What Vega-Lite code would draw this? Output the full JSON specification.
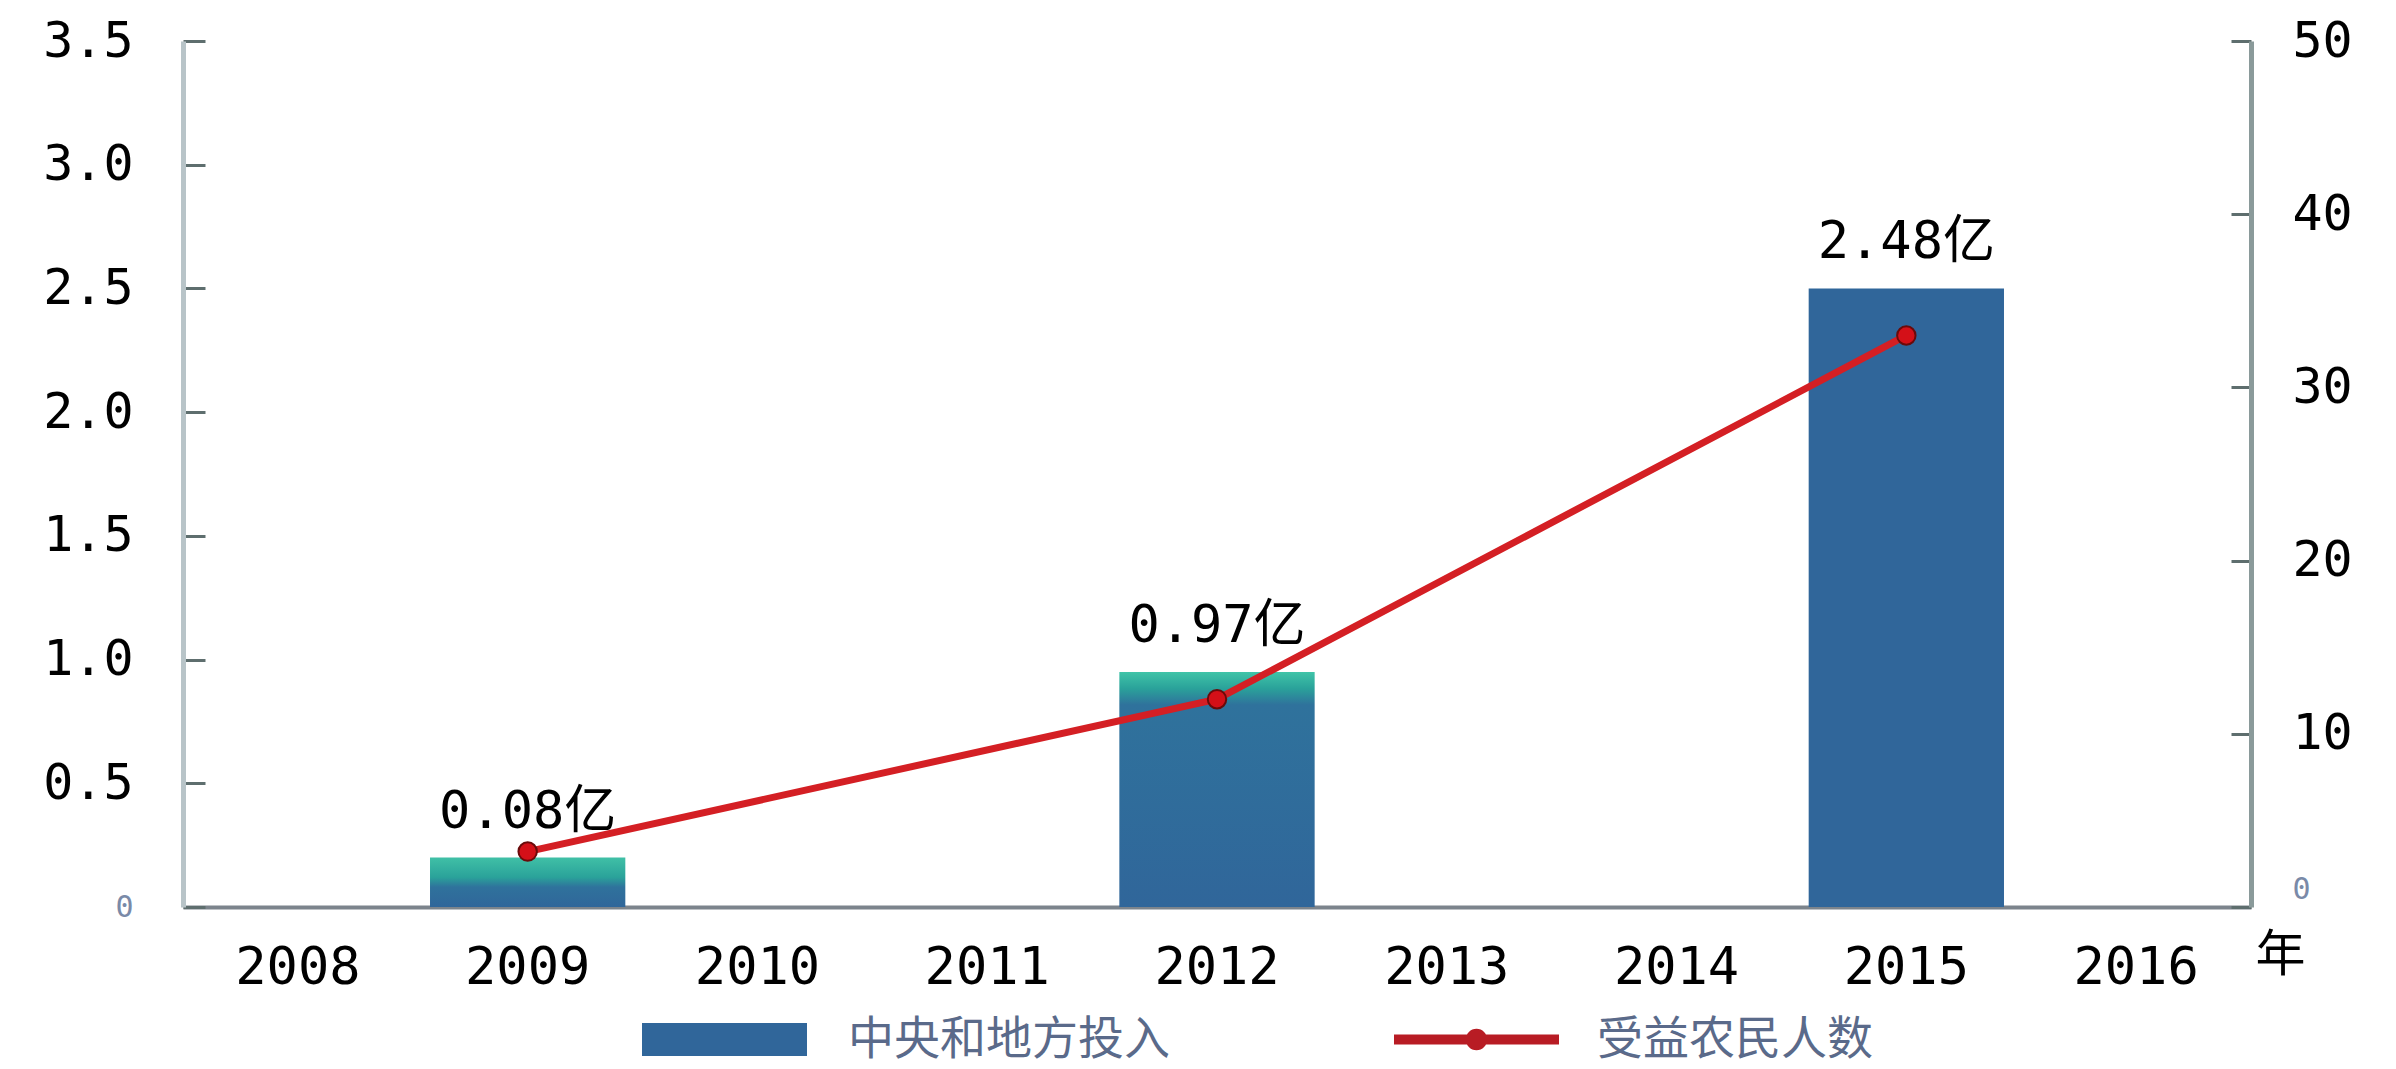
{
  "$schema": "https://vega.github.io/schema/vega-lite/v6.json",
  "width": 2068,
  "height": 866,
  "autosize": {"type": "none"},
  "padding": {"left": 183, "top": 41, "right": 145, "bottom": 162},
  "background": "white",
  "config": {"view": {"stroke": null}, "font": "DejaVu Sans Mono"},
  "datasets": {
    "bars": [
      {"year": "2009", "invest": 0.2, "label": "0.08亿"},
      {"year": "2012", "invest": 0.95, "label": "0.97亿"},
      {"year": "2015", "invest": 2.5, "label": "2.48亿"}
    ],
    "people": [
      {"year": "2009", "people": 3.2},
      {"year": "2012", "people": 12},
      {"year": "2015", "people": 33}
    ]
  },
  "encoding": {
    "x": {
      "field": "year", "type": "ordinal",
      "scale": {"domain": ["2008","2009","2010","2011","2012","2013","2014","2015","2016"], "paddingInner": 0.15, "paddingOuter": 0.075},
      "axis": {
        "domainColor": "#7c848c", "domainWidth": 4, "ticks": false, "tickSize": 0,
        "labelFont": "DejaVu Sans Mono", "labelFontSize": 52, "labelColor": "#000000",
        "labelPadding": 35, "labelAngle": 0,
        "title": "年", "titleX": 2097, "titleY": 48, "titleAlign": "center", "titleBaseline": "middle",
        "titleFont": "Noto Sans CJK SC", "titleFontSize": 50, "titleFontWeight": "normal", "titleColor": "#000000"
      }
    }
  },
  "layer": [
    {
      "data": {"name": "bars"},
      "encoding": {
        "y": {
          "field": "invest", "type": "quantitative",
          "scale": {"domain": [0, 3.5], "nice": false},
          "axis": {
            "orient": "left", "values": [0, 0.5, 1, 1.5, 2, 2.5, 3, 3.5],
            "labelExpr": "datum.value === 0 ? '0' : format(datum.value, '.1f')",
            "grid": false, "title": null,
            "domainColor": "#b8c4c8", "domainWidth": 5,
            "tickColor": "#5e6e6e", "tickWidth": 3, "tickSize": -22,
            "labelPadding": 72,
            "labelFont": "DejaVu Sans Mono",
            "labelFontSize": {"condition": {"test": "datum.value === 0", "value": 30}, "value": 50},
            "labelColor": {"condition": {"test": "datum.value === 0", "value": "#7a8aa8"}, "value": "#000000"}
          }
        }
      },
      "layer": [
        {
          "mark": {"type": "bar", "strokeWidth": 0},
          "encoding": {
            "fill": {
              "condition": [
                {"test": "datum.year === '2009'", "value": {"gradient": "linear", "x1": 0, "y1": 0, "x2": 0, "y2": 1, "stops": [
                  {"offset": 0, "color": "#40c0a6"}, {"offset": 0.4, "color": "#2aa29a"}, {"offset": 0.6, "color": "#2f729c"}, {"offset": 1, "color": "#30669a"}]}},
                {"test": "datum.year === '2012'", "value": {"gradient": "linear", "x1": 0, "y1": 0, "x2": 0, "y2": 1, "stops": [
                  {"offset": 0, "color": "#40c4a8"}, {"offset": 0.07, "color": "#2aa29a"}, {"offset": 0.14, "color": "#2f729c"}, {"offset": 1, "color": "#30669a"}]}}
              ],
              "datum": "中央和地方投入",
              "type": "nominal",
              "scale": {"range": ["#30669a"]},
              "legend": {
                "orient": "none", "legendX": 459, "legendY": 916, "title": null, "padding": 0,
                "symbolType": "M-1,-0.2H1V0.2H-1Z", "symbolSize": 27225, "symbolStrokeWidth": 0,
                "labelFont": "Noto Sans CJK SC", "labelFontSize": 46, "labelColor": "#5a6a8a", "labelOffset": 41, "labelLimit": 0
              }
            }
          }
        },
        {
          "mark": {"type": "text", "font": "DejaVu Sans Mono, Noto Sans CJK SC", "fontSize": 52, "baseline": "alphabetic", "dy": -30, "color": "#000000"},
          "encoding": {"text": {"field": "label"}}
        }
      ]
    },
    {
      "data": {"name": "people"},
      "encoding": {
        "y": {
          "field": "people", "type": "quantitative",
          "scale": {"domain": [0, 50], "nice": false},
          "axis": {
            "orient": "right", "values": [0, 10, 20, 30, 40, 50],
            "grid": false, "title": null,
            "domainColor": "#8a9a9a", "domainWidth": 5,
            "tickColor": "#5e6e6e", "tickWidth": 3, "tickSize": -20,
            "labelPadding": 61,
            "labelFont": "DejaVu Sans Mono",
            "labelFontSize": {"condition": {"test": "datum.value === 0", "value": 30}, "value": 50},
            "labelColor": {"condition": {"test": "datum.value === 0", "value": "#7a8aa8"}, "value": "#000000"},
            "labelOffset": {"condition": {"test": "datum.value === 0", "value": -18}, "value": 0}
          }
        }
      },
      "layer": [
        {
          "mark": {"type": "line", "strokeWidth": 7},
          "encoding": {
            "stroke": {
              "datum": "受益农民人数",
              "type": "nominal",
              "scale": {"range": ["#d41f24"]},
              "legend": {
                "orient": "none", "legendX": 1211, "legendY": 916, "title": null, "padding": 0,
                "symbolType": "M-1,-0.06H1V0.06H-1Z M-0.13,0A0.13,0.13 0 1,1 0.13,0A0.13,0.13 0 1,1 -0.13,0Z",
                "symbolSize": 27225, "symbolStrokeWidth": 0, "symbolFillColor": "#b01c24",
                "labelFont": "Noto Sans CJK SC", "labelFontSize": 46, "labelColor": "#5a6a8a", "labelOffset": 38, "labelLimit": 0,
                "encode": {"symbols": {"update": {"fill": {"value": "#b81c24"}, "strokeWidth": {"value": 0}}}}
              }
            }
          }
        },
        {
          "mark": {"type": "point", "filled": true, "size": 340, "color": "#d41018", "stroke": "#6a0a0a", "strokeWidth": 2, "opacity": 1}
        }
      ]
    }
  ],
  "resolve": {"scale": {"y": "independent"}}
}
